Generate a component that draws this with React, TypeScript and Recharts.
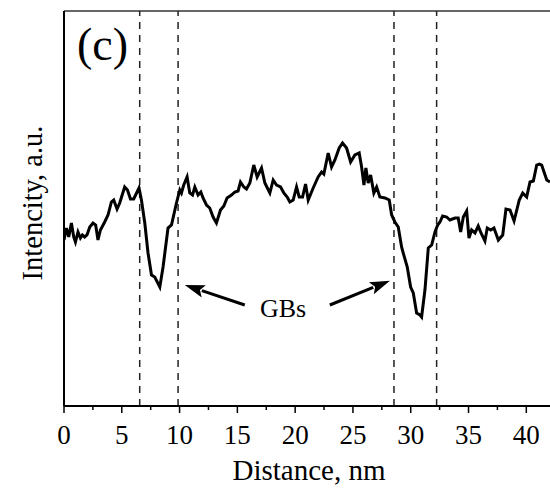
import React from "react";
import { LineChart, Line, XAxis, YAxis, ReferenceLine, Customized } from "recharts";

const distance = [
  0.0, 0.21, 0.41, 0.64, 0.84, 0.99, 1.21, 1.42, 1.59, 1.79, 1.99, 2.23, 2.51, 2.74, 2.94, 3.15, 3.52, 3.81, 4.1, 4.3,
  4.59, 4.82, 5.25, 5.49, 5.75, 6.03, 6.49, 6.7, 6.99, 7.27, 7.57, 7.85, 8.29, 8.57, 9.0, 9.3, 9.73, 10.02, 10.16, 10.36,
  10.65, 10.88, 11.12, 11.32, 11.6, 11.84, 12.03, 12.33, 12.61, 12.9, 13.19, 13.54, 13.83, 14.11, 14.49, 14.78, 15.06, 15.27, 15.56, 15.79,
  16.08, 16.42, 16.71, 17.09, 17.38, 17.81, 18.1, 18.39, 18.74, 19.02, 19.31, 19.54, 19.83, 20.12, 20.35, 20.64, 20.9, 21.13, 21.56, 21.99,
  22.29, 22.48, 22.86, 23.15, 23.44, 23.81, 24.1, 24.45, 24.8, 25.17, 25.54, 25.75, 25.95, 26.12, 26.32, 26.53, 26.81, 27.05, 27.33, 27.77,
  28.14, 28.35, 28.63, 28.92, 29.21, 29.35, 29.7, 29.99, 30.22, 30.51, 30.8, 30.94, 31.23, 31.52, 31.81, 32.1, 32.33, 32.53, 32.76, 33.11,
  33.39, 33.83, 34.11, 34.32, 34.55, 34.84, 35.04, 35.27, 35.56, 35.84, 36.08, 36.42, 36.62, 36.92, 37.2, 37.58, 37.96, 38.24, 38.59, 38.94,
  39.39, 39.69, 40.03, 40.32, 40.61, 40.9, 41.13, 41.33, 41.77, 42.05,
];

const intensity = [
  166, 178, 169, 183, 169, 164, 174, 168, 171, 169, 171, 179, 183, 181, 166, 176, 184, 191, 204, 206,
  197, 203, 219, 216, 207, 207, 218, 206, 183, 153, 131, 129, 119, 139, 178, 181, 203, 216, 213, 221,
  229, 213, 211, 219, 211, 214, 208, 201, 198, 189, 183, 196, 200, 208, 211, 214, 215, 224, 219, 217,
  223, 241, 229, 238, 223, 213, 226, 221, 219, 213, 209, 204, 206, 219, 209, 209, 222, 206, 218, 229,
  234, 232, 253, 239, 246, 258, 263, 258, 244, 251, 253, 239, 221, 238, 223, 231, 213, 219, 209, 208,
  206, 191, 184, 179, 159, 153, 139, 119, 113, 93, 91, 89, 116, 158, 161, 174, 181, 184, 190, 189,
  186, 188, 188, 174, 189, 195, 168, 176, 173, 180, 173, 165, 178, 176, 178, 166, 171, 197, 196, 185,
  206, 213, 209, 224, 225, 241, 242, 241, 226, 224,
];

const xTicks = [0, 2.5, 5, 7.5, 10, 12.5, 15, 17.5, 20, 22.5, 25, 27.5, 30, 32.5, 35, 37.5, 40];
const boundaries = [6.55, 9.87, 28.55, 32.24];
const arrows = [
  { from: [15.64, 101], to: [10.45, 121] },
  { from: [23.0, 101], to: [28.2, 125.3] },
];

const data = distance.map((d, i) => ({ d, v: intensity[i] }));

const FONT = "Liberation Serif";
const serif: React.CSSProperties = { fontFamily: FONT };

const Tick = (props: any) => {
  const { x, y, payload } = props;
  const major = payload.value % 5 === 0;
  return (
    <g>
      <line x1={x} y1={y} x2={x} y2={y + (major ? 7 : 4)} stroke="#000" strokeWidth={1.5} />
      {major && (
        <text x={x} y={y + 19} dy="0.71em" textAnchor="middle" style={serif} fontSize={27} fill="#000">
          {payload.value}
        </text>
      )}
    </g>
  );
};

const Arrow = (props: any) => {
  const { x1, y1, x2, y2 } = props;
  const ang = Math.atan2(y2 - y1, x2 - x1);
  const L = 20;
  const W = 6.5;
  const bx = x2 - L * Math.cos(ang);
  const by = y2 - L * Math.sin(ang);
  const px = -Math.sin(ang) * W;
  const py = Math.cos(ang) * W;
  return (
    <g>
      <line x1={x1} y1={y1} x2={bx + 2 * Math.cos(ang)} y2={by + 2 * Math.sin(ang)} stroke="#000" strokeWidth={3} />
      <polygon points={`${x2},${y2} ${bx + px},${by + py} ${bx + 4 * Math.cos(ang)},${by + 4 * Math.sin(ang)} ${bx - px},${by - py}`} fill="#000" />
    </g>
  );
};

const Texts = () => (
  <g style={serif} fill="#000">
    <text x={77} y={60} fontSize={46} style={serif}>(c)</text>
    <text x={283} y={317} fontSize={26} textAnchor="middle" style={serif}>GBs</text>
    <text x={309} y={480} fontSize={29} textAnchor="middle" style={serif}>Distance, nm</text>
    <text x={42} y={203} fontSize={28.5} textAnchor="middle" transform="rotate(-90, 42, 203)" style={serif}>Intencity, a.u.</text>
  </g>
);

export default function App() {
  return (
    <div style={{ position: "absolute", left: 0, top: 0, background: "#fff", fontFamily: FONT }}>
      <LineChart width={550} height={491} data={data} margin={{ top: 11, right: 0, bottom: 0, left: 0 }}>
        <XAxis
          dataKey="d"
          type="number"
          domain={[0, 42.05]}
          ticks={xTicks}
          interval={0}
          tickSize={0}
          tickMargin={0}
          tickLine={false}
          tick={<Tick />}
          axisLine={{ stroke: "#000", strokeWidth: 2 }}
          height={85}
          allowDataOverflow
        />
        <YAxis
          type="number"
          domain={[0, 395]}
          tick={false}
          tickLine={false}
          axisLine={{ stroke: "#000", strokeWidth: 2 }}
          width={64}
          allowDataOverflow
        />
        <ReferenceLine y={395} stroke="#666" strokeWidth={2} />
        {boundaries.map((b) => (
          <ReferenceLine key={b} x={b} stroke="#222" strokeWidth={1.5} strokeDasharray="7 6" />
        ))}
        {arrows.map((a, i) => (
          <ReferenceLine
            key={`a${i}`}
            segment={[{ x: a.from[0], y: a.from[1] }, { x: a.to[0], y: a.to[1] }]}
            shape={<Arrow />}
          />
        ))}
        <Line type="linear" dataKey="v" stroke="#000" strokeWidth={3} dot={false} isAnimationActive={false} />
        <Customized component={<Texts />} />
      </LineChart>
    </div>
  );
}
